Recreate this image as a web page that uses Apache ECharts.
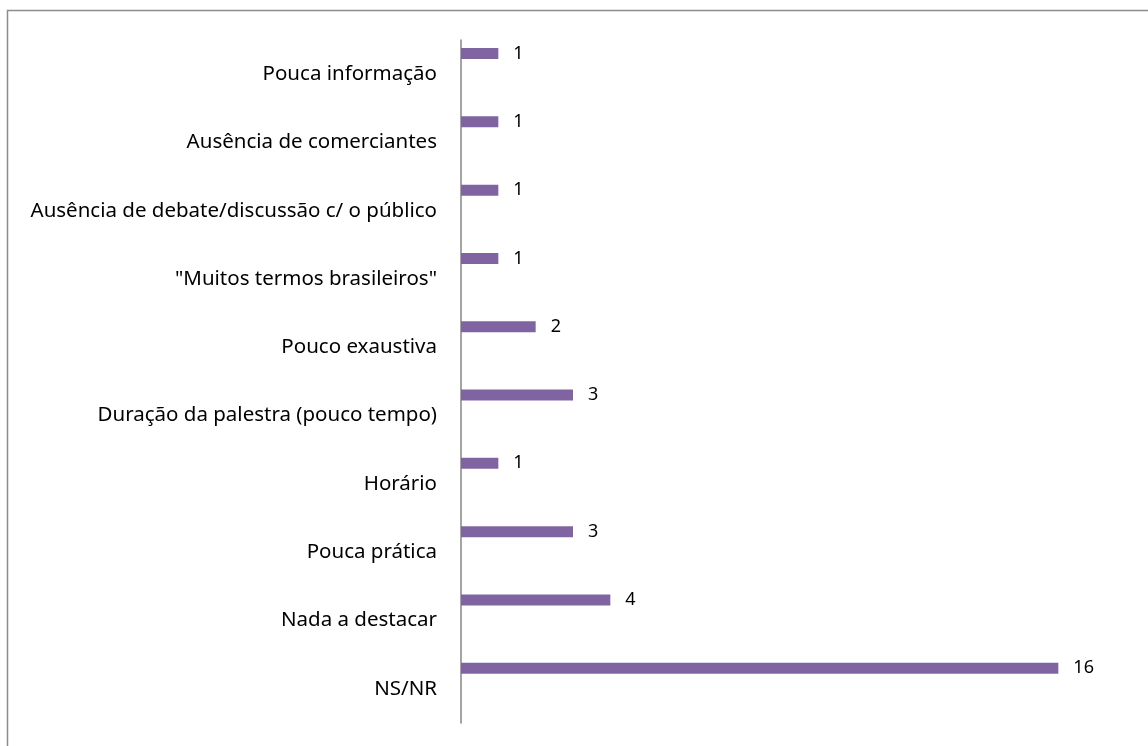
<!DOCTYPE html>
<html>
<head>
<meta charset="utf-8">
<script src="https://cdn.jsdelivr.net/npm/echarts@6/dist/echarts.min.js"></script>
<style>
html,body{margin:0;padding:0;background:#fff;}
#chart{width:1148px;height:746px;}
</style>
</head>
<body>
<div id="chart"></div>
<script>
// categories listed top to bottom
const categories = [
  'Pouca informação',
  'Ausência de comerciantes',
  'Ausência de debate/discussão c/ o público',
  '"Muitos termos brasileiros"',
  'Pouco exaustiva',
  'Duração da palestra (pouco tempo)',
  'Horário',
  'Pouca prática',
  'Nada a destacar',
  'NS/NR'
];
const values = [1, 1, 1, 1, 2, 3, 1, 3, 4, 16];
const emptyValues = categories.map(() => null);

const chart = echarts.init(document.getElementById('chart'));
chart.setOption({
  animation: false,
  backgroundColor: '#ffffff',
  graphic: [{
    type: 'rect',
    shape: { x: 7.5, y: 10.5, width: 1200, height: 800 },
    style: { fill: 'none', stroke: '#8c8c8c', lineWidth: 1.5 },
    silent: true
  }],
  grid: { left: 461, top: 40, bottom: 23, right: 15, containLabel: false },
  xAxis: {
    type: 'value', min: 0, max: 18, show: false
  },
  yAxis: {
    type: 'category',
    inverse: true,
    data: categories,
    axisLine: { show: true, lineStyle: { color: '#868686', width: 1.5 } },
    axisTick: { show: false },
    axisLabel: {
      color: '#000', fontFamily: 'Noto Sans', fontSize: 20.5, margin: 24,
      padding: [9, 0, 0, 0]
    }
  },
  series: [
    {
      name: 'valores', type: 'bar', data: values, barWidth: 11, barGap: '275%',
      itemStyle: { color: '#8064A2' },
      label: { show: true, position: 'right', distance: 15, color: '#000', fontFamily: 'Noto Sans', fontSize: 18 }
    },
    {
      name: 'vazio', type: 'bar', data: emptyValues, barWidth: 11,
      itemStyle: { color: '#4F81BD' }
    }
  ]
});
</script>
</body>
</html>
